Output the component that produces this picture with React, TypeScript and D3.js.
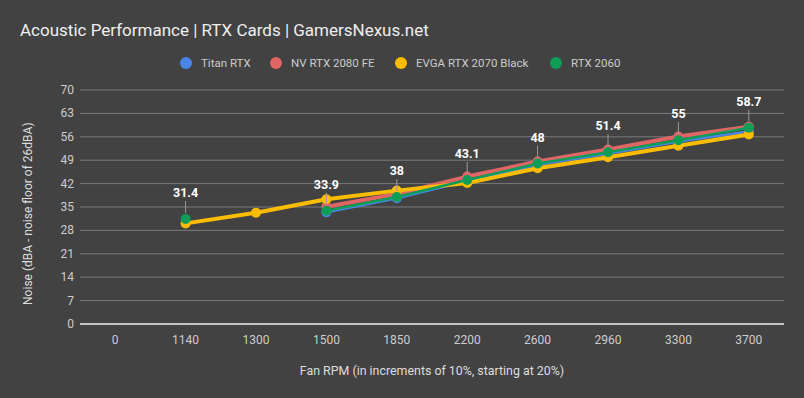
import * as d3 from 'd3'

const categories = ['0', '1140', '1300', '1500', '1850', '2200', '2600', '2960', '3300', '3700']
const titan = [null, null, null, 33.4, 37.6, 42.8, 47.6, 50.9, 54.6, 57.6]
const nv2080 = [null, null, null, 35.1, 38.9, 44.1, 48.6, 52.2, 56.1, 59.0]
const evga2070 = [null, 30.1, 33.3, 37.3, 39.9, 42.2, 46.6, 49.9, 53.3, 56.7]
const rtx2060 = [null, 31.4, null, 33.9, 38, 43.1, 48, 51.4, 55, 58.7]
const yTicks = [0, 7, 14, 21, 28, 35, 42, 49, 56, 63, 70]

const series = [
  { name: 'Titan RTX', values: titan, color: '#4a86e8', width: 2.5 },
  { name: 'NV RTX 2080 FE', values: nv2080, color: '#e06666', width: 4 },
  { name: 'EVGA RTX 2070 Black', values: evga2070, color: '#fbbc04', width: 4 },
  { name: 'RTX 2060', values: rtx2060, color: '#0f9d58', width: 2.5 },
]
const legendX = [186, 276, 401, 556]

const W = 804
const H = 398
const left = 80
const right = 784
const top = 90
const bottom = 324

const App = () => {
  const x = d3.scaleBand().domain(categories).range([left, right])
  const y = d3.scaleLinear().domain([0, 70]).range([bottom, top])
  const cx = (i: number) => (x(categories[i]) as number) + x.bandwidth() / 2

  const line = d3
    .line<number | null>()
    .defined((d) => d != null)
    .x((_, i) => cx(i))
    .y((d) => y(d as number))

  const font = 'Roboto, sans-serif'

  return (
    <svg width={W} height={H} style={{ position: 'absolute', left: 0, top: 0 }}>
      <rect width={W} height={H} fill="#424242" />
      <text x={20} y={36} fill="#eeeeee" fontSize={17} fontFamily={font}>
        Acoustic Performance | RTX Cards | GamersNexus.net
      </text>
      {series.map((s, i) => (
        <g key={s.name}>
          <circle cx={legendX[i]} cy={63} r={6} fill={s.color} />
          <text x={legendX[i] + 15} y={67} fill="#cccccc" fontSize={11.5} fontFamily={font}>
            {s.name}
          </text>
        </g>
      ))}
      {yTicks.map((t) => (
        <g key={t}>
          <line
            x1={left}
            x2={right}
            y1={y(t)}
            y2={y(t)}
            stroke={t === 0 ? '#f0f0f0' : '#7a7a7a'}
            strokeWidth={t === 0 ? 1.5 : 1}
          />
          <text
            x={74}
            y={y(t) + 4}
            textAnchor="end"
            fill="#cccccc"
            fontSize={12}
            fontFamily={font}
          >
            {t}
          </text>
        </g>
      ))}
      {categories.map((c, i) => (
        <text
          key={c}
          x={cx(i)}
          y={344}
          textAnchor="middle"
          fill="#cccccc"
          fontSize={12}
          fontFamily={font}
        >
          {c}
        </text>
      ))}
      <text
        x={(left + right) / 2}
        y={375}
        textAnchor="middle"
        fill="#dddddd"
        fontSize={12.4}
        fontFamily={font}
      >
        Fan RPM (in increments of 10%, starting at 20%)
      </text>
      <text
        transform={`translate(32, ${y(33)}) rotate(-90)`}
        textAnchor="middle"
        fill="#dddddd"
        fontSize={12}
        fontFamily={font}
      >
        Noise (dBA - noise floor of 26dBA)
      </text>
      {series.map((s) => (
        <g key={s.name}>
          <path
            d={line(s.values) as string}
            fill="none"
            stroke={s.color}
            strokeWidth={s.width}
            strokeLinejoin="round"
          />
          {s.values.map((v, i) =>
            v == null ? null : <circle key={i} cx={cx(i)} cy={y(v)} r={5} fill={s.color} />
          )}
        </g>
      ))}
      {rtx2060.map((v, i) =>
        v == null ? null : (
          <g key={i}>
            <line x1={cx(i)} x2={cx(i)} y1={y(v) - 6} y2={y(v) - 18} stroke="#999999" strokeWidth={1} />
            <text
              x={cx(i)}
              y={y(v) - 22}
              textAnchor="middle"
              fill="#ffffff"
              fontSize={12.5}
              fontWeight="bold"
              fontFamily={font}
            >
              {v}
            </text>
          </g>
        )
      )}
    </svg>
  )
}

export default App
